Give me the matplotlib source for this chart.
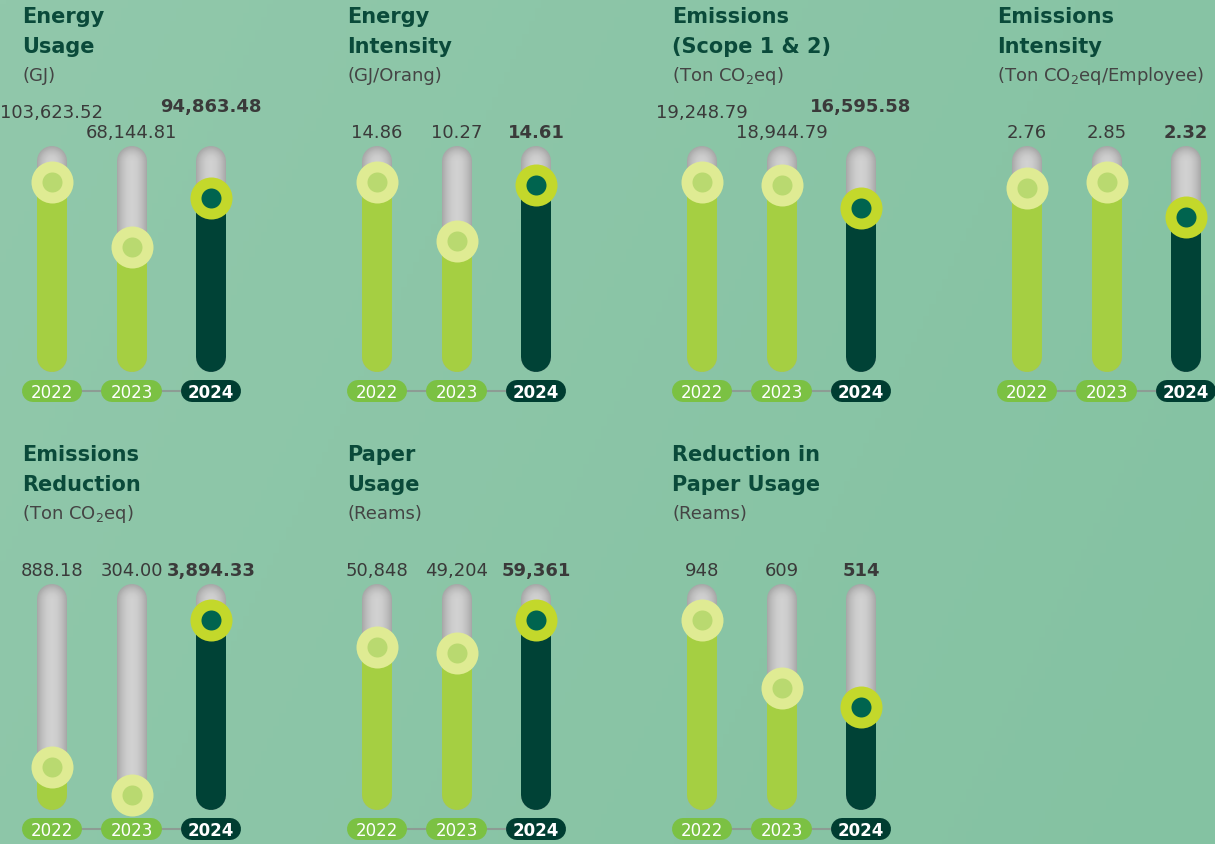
import numpy as np
import matplotlib
matplotlib.use("Agg")
import matplotlib.pyplot as plt

plt.rcParams["font.family"] = ["DejaVu Sans"]
plt.rcParams["mathtext.default"] = "regular"

years = ["2022", "2023", "2024"]

titles = ["Energy\nUsage", "Energy\nIntensity", "Emissions\n(Scope 1 & 2)",
          "Emissions\nIntensity", "Emissions\nReduction", "Paper\nUsage",
          "Reduction in\nPaper Usage"]
units = ["(GJ)", "(GJ/Orang)", "(Ton CO$_2$eq)", "(Ton CO$_2$eq/Employee)",
         "(Ton CO$_2$eq)", "(Reams)", "(Reams)"]

energy_usage = [103623.52, 68144.81, 94863.48]
energy_intensity = [14.86, 10.27, 14.61]
emissions_scope12 = [19248.79, 18944.79, 16595.58]
emissions_intensity = [2.76, 2.85, 2.32]
emissions_reduction = [888.18, 304.00, 3894.33]
paper_usage = [50848, 49204, 59361]
paper_reduction = [948, 609, 514]

series = [energy_usage, energy_intensity, emissions_scope12, emissions_intensity,
          emissions_reduction, paper_usage, paper_reduction]
formats = ["{:,.2f}"] * 5 + ["{:,.0f}"] * 2
# long numbers get staggered labels so they don't run into each other
stagger = [True, False, True, False, False, False, False]

W, H = 1215, 844
fig = plt.figure(figsize=(W / 100, H / 100), dpi=100)

# soft green background
bg = fig.add_axes([0, 0, 1, 1])
gx, gy = np.meshgrid(np.linspace(0, 1, 200), np.linspace(0, 1, 200))
t = (0.75 * gx + 0.25 * gy)[..., None]
c0 = np.array([145, 200, 171]) / 255
c1 = np.array([132, 194, 162]) / 255
bg.imshow(c0 * (1 - t) + c1 * t, extent=[0, 1, 0, 1], aspect="auto")
bg.axis("off")

tube_px = 226
gap = 79.5
pt = 0.72  # points per pixel at dpi 100

# cylinder shading for the empty tubes: darker at the edges, light in the middle
edge, mid = np.array([0.66, 0.66, 0.66]), np.array([0.82, 0.82, 0.82])
shade = [(w, tuple(mid - (mid - edge) * (w / 30) ** 2)) for w in range(30, 1, -2)]

light = dict(fill="#a5cf42", ring="#dfeb93", dot="#b9d970", pill="#7bc143")
dark = dict(fill="#004236", ring="#c3d82b", dot="#00644f", pill="#003d31")

for k, (title, unit, vals, fmt, stag) in enumerate(zip(titles, units, series, formats, stagger)):
    row, col = divmod(k, 4)
    left = 12.25 + 325 * col
    bottom = 472 - 438 * row
    ax = fig.add_axes([left / W, bottom / H, 3 * gap / W, tube_px / H])
    ax.set_xlim(-0.5, 2.5)
    top = max(vals) / 0.84
    ax.set_ylim(0, top)
    ax.axis("off")
    ax.patch.set_alpha(0)

    cap = 15 / tube_px * top
    pill_y = -19 / tube_px * top

    ax.annotate(title, xy=(0, 1), xycoords="axes fraction", xytext=(10, 139),
                textcoords="offset pixels", ha="left", va="top", fontsize=15,
                fontweight="bold", color="#0a4a3a", linespacing=1.6)
    ax.annotate(unit, xy=(0, 1), xycoords="axes fraction", xytext=(10, 70),
                textcoords="offset pixels", ha="left", va="center", fontsize=13,
                color="#444444")

    # year pills joined by a thin line
    ax.plot([0, 2], [pill_y, pill_y], color="#8d9c94", lw=1.5, clip_on=False, zorder=1)

    for i, v in enumerate(vals):
        sty = dark if i == 2 else light
        for w, c in shade:
            ax.plot([i, i], [cap, top - cap], color=c, lw=w * pt,
                    solid_capstyle="round", clip_on=False, zorder=2)
        ax.plot([i, i], [cap, max(v, cap)], color=sty["fill"], lw=30 * pt,
                solid_capstyle="round", clip_on=False, zorder=3)
        ax.plot(i, v, "o", ms=42 * pt, color=sty["ring"], mec="none", clip_on=False, zorder=4)
        ax.plot(i, v, "o", ms=20 * pt, color=sty["dot"], mec="none", clip_on=False, zorder=5)

        lift = 0
        if stag:
            lift = [20, 0, 26][i]
        ax.annotate(fmt.format(v), xy=(i, top), xytext=(0, 8 + lift),
                    textcoords="offset pixels", ha="center", va="baseline",
                    fontsize=13, fontweight="bold" if i == 2 else "normal",
                    color="#3a3a3a", annotation_clip=False)

        ax.plot([i - 0.239, i + 0.239], [pill_y, pill_y], color=sty["pill"],
                lw=22 * pt, solid_capstyle="round", clip_on=False, zorder=2)
        ax.text(i, pill_y, years[i], ha="center", va="center_baseline", fontsize=12,
                color="white", fontweight="bold" if i == 2 else "normal", zorder=3)

fig.savefig("out.png", dpi=100)
